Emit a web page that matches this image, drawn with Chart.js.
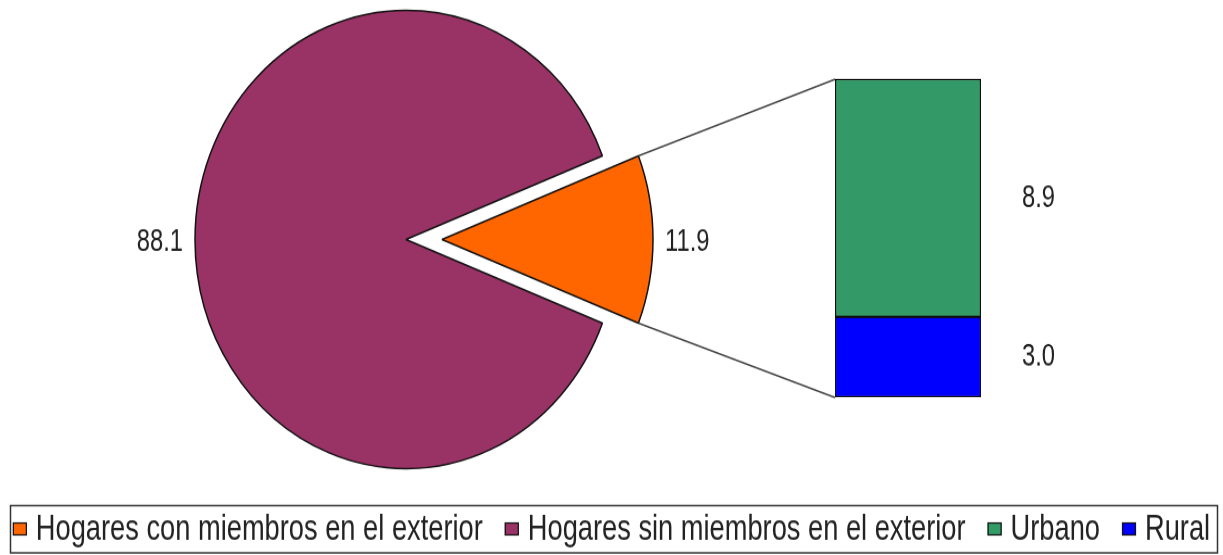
<!DOCTYPE html>
<html>
<head>
<meta charset="utf-8">
<script src="https://cdn.jsdelivr.net/npm/chart.js@4"></script>
<style>
  html { overflow: hidden; }
  html, body { margin: 0; padding: 0; background: #fff; }
  #stage { position: relative; width: 1223px; height: 555px; }
  #stage canvas { position: absolute; }
</style>
</head>
<body>
<div id="stage">
  <!-- bitmaps are drawn 511 tall and shown 555 tall: the source picture is stretched vertically -->
  <canvas id="pieChart" width="1223" height="511" style="left:0;top:0;width:1223px;height:555px"></canvas>
  <canvas id="barChart" width="265" height="313" style="left:835px;top:68.42px;width:265px;height:339.95px"></canvas>
</div>
<script>
// Data
const pieLabels = ["Hogares con miembros en el exterior", "Hogares sin miembros en el exterior"];
const pieValues = [11.9, 88.1];
const barLabels = ["Urbano", "Rural"];
const barValues = [8.9, 3.0];

const pieColors = ["#ff6600", "#993366"];
const barColors = ["#339966", "#0000ff"];
const FONT = '"Liberation Sans", Arial, sans-serif';
const NARROW = 0.82;   // squeeze text horizontally like the original font
const TEXT = "#222";
const EDGE = "#111";
const EXPLODE = 36;

const pieTotal = pieValues.reduce((s, v) => s + v, 0);
const barTotal = barValues.reduce((s, v) => s + v, 0);

function narrowText(ctx, text, x, y, align, squeeze) {
    ctx.save();
    ctx.translate(x, y);
    ctx.scale(squeeze || NARROW, 1);
    ctx.textAlign = align;
    ctx.fillText(text, 0, 0);
    ctx.restore();
}

/* BAR - breakdown of the small slice */
const barValueLabels = {
    id: "barValueLabels",
    afterDatasetsDraw(chart) {
        const ctx = chart.ctx;
        ctx.save();
        ctx.font = "29px " + FONT;
        ctx.fillStyle = TEXT;
        ctx.textBaseline = "middle";
        chart.data.datasets.forEach((ds, i) => {
            const el = chart.getDatasetMeta(i).data[0];
            narrowText(ctx, ds.data[0].toFixed(1), chart.chartArea.right + 41, (el.y + el.base) / 2, "left");
        });
        ctx.restore();
    }
};

const barChart = new Chart(document.getElementById("barChart"), {
    type: "bar",
    data: {
        labels: [""],
        datasets: barLabels.map((label, i) => ({
            label: label,
            data: [barValues[i]],
            backgroundColor: barColors[i],
            borderColor: EDGE,
            borderWidth: 1.5,
            borderSkipped: false,
            barPercentage: 1,
            categoryPercentage: 1
        })).reverse()   // first dataset sits at the bottom of the stack
    },
    options: {
        responsive: false,
        animation: false,
        events: [],
        layout: { padding: { top: 10, bottom: 10, left: 0, right: 119 } },
        plugins: { legend: { display: false }, tooltip: { enabled: false } },
        scales: {
            x: { stacked: true, display: false },
            y: { stacked: true, display: false, min: 0, max: barTotal }
        }
    },
    plugins: [barValueLabels]
});

/* PIE - exploded slice, labels, connectors and legend */
const pieExtras = {
    id: "pieExtras",
    afterDatasetsUpdate(chart) {
        // pull the first slice out of the pie
        const arc = chart.getDatasetMeta(0).data[0];
        const mid = (arc.startAngle + arc.endAngle) / 2;
        arc.x += Math.cos(mid) * EXPLODE;
        arc.y += Math.sin(mid) * EXPLODE;
    },
    afterDatasetsDraw(chart) {
        const ctx = chart.ctx;
        const arcs = chart.getDatasetMeta(0).data;

        // value labels outside the slices
        ctx.save();
        ctx.font = "29px " + FONT;
        ctx.fillStyle = TEXT;
        ctx.textBaseline = "middle";
        arcs.forEach((arc, i) => {
            const mid = (arc.startAngle + arc.endAngle) / 2;
            const r = arc.outerRadius + 12;
            const x = arc.x + Math.cos(mid) * r;
            const y = arc.y + Math.sin(mid) * r + 2;
            narrowText(ctx, pieValues[i].toFixed(1), x, y, Math.cos(mid) >= 0 ? "left" : "right");
        });
        ctx.restore();

        // connector lines from the small slice to the bar
        const small = arcs[0];
        const bTop = barChart.getDatasetMeta(1).data[0];    // Urbano (top)
        const bBottom = barChart.getDatasetMeta(0).data[0]; // Rural (bottom)
        const bx = 835 + bTop.x - bTop.width / 2;
        const by = 63;
        ctx.save();
        ctx.strokeStyle = "#444";
        ctx.lineWidth = 1.5;
        ctx.beginPath();
        ctx.moveTo(small.x + Math.cos(small.startAngle) * small.outerRadius, small.y + Math.sin(small.startAngle) * small.outerRadius);
        ctx.lineTo(bx, by + bTop.y);
        ctx.moveTo(small.x + Math.cos(small.endAngle) * small.outerRadius, small.y + Math.sin(small.endAngle) * small.outerRadius);
        ctx.lineTo(bx, by + bBottom.base);
        ctx.stroke();
        ctx.restore();

        // legend
        const items = pieLabels.map((t, i) => ({ text: t, color: pieColors[i] }))
            .concat(barLabels.map((t, i) => ({ text: t, color: barColors[i] })));
        const squeeze = 0.826;
        ctx.save();
        ctx.strokeStyle = "#333";
        ctx.lineWidth = 1.5;
        ctx.strokeRect(10.5, 465.5, 1207, 43.5);
        ctx.font = "33px " + FONT;
        ctx.textBaseline = "middle";
        const gapBox = 9, gapItem = 22, boxW = 14, boxH = 12;
        const widths = items.map(it => ctx.measureText(it.text).width * squeeze);
        const total = widths.reduce((s, w) => s + w + boxW + gapBox, 0) + gapItem * (items.length - 1);
        let x = (1223 - total) / 2;
        const cy = 487;
        items.forEach((it, i) => {
            ctx.fillStyle = it.color;
            ctx.fillRect(x, cy - boxH / 2, boxW, boxH);
            ctx.strokeStyle = EDGE;
            ctx.lineWidth = 1.2;
            ctx.strokeRect(x + 0.5, cy - boxH / 2 + 0.5, boxW - 1, boxH - 1);
            ctx.fillStyle = TEXT;
            narrowText(ctx, it.text, x + boxW + gapBox, cy + 1, "left", squeeze);
            x += boxW + gapBox + widths[i] + gapItem;
        });
        ctx.restore();
    }
};

new Chart(document.getElementById("pieChart"), {
    type: "pie",
    data: {
        labels: pieLabels,
        datasets: [{
            data: pieValues,
            backgroundColor: pieColors,
            borderColor: EDGE,
            borderWidth: 1.5
        }]
    },
    options: {
        responsive: false,
        animation: false,
        events: [],
        radius: 211,
        rotation: 90 - pieValues[0] / pieTotal * 180,
        layout: { padding: { left: 0, top: 0, right: 411, bottom: 70 } },
        plugins: { legend: { display: false }, tooltip: { enabled: false } }
    },
    plugins: [pieExtras]
});
</script>
</body>
</html>
